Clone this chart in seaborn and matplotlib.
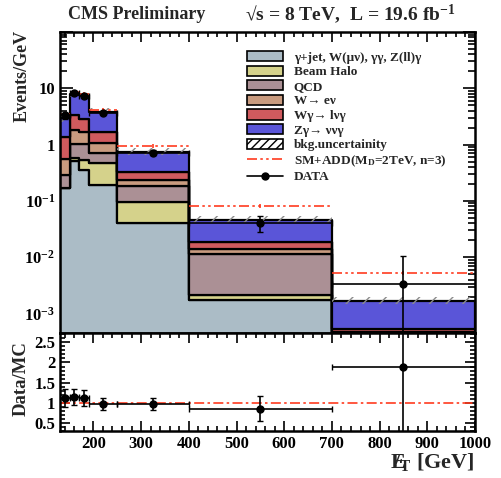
import numpy as np
import pandas as pd
import matplotlib
matplotlib.use("Agg")
import matplotlib.pyplot as plt
import matplotlib.ticker as mticker
from matplotlib.patches import Patch
from matplotlib.lines import Line2D
import seaborn as sns

# bins in missing E_T (GeV)
edges = [130, 150, 170, 190, 250, 400, 700, 1000]
centers = [140, 160, 180, 220, 325, 550, 850]
halfw = [10, 10, 10, 30, 75, 150, 150]

# backgrounds, events/GeV (bottom -> top)
gjet = [0.167, 0.51, 0.36, 0.189, 0.0405, 0.00172, 0.0002]
halo = [0.003, 0.078, 0.166, 0.291, 0.0555, 0.00043, 0.00002]
qcd = [0.115, 0.452, 0.484, 0.24, 0.086, 0.00905, 0.0002]
wenu = [0.279, 0.75, 0.66, 0.36, 0.05, 0.0028, 0.00005]
wg = [0.796, 1.52, 1.23, 0.59, 0.094, 0.0047, 0.00006]
zg = [1.57, 4.74, 4.6, 2.12, 0.414, 0.0279, 0.00115]

sm_add = [3.55, 8.7, 7.9, 4.18, 0.94, 0.081, 0.0052]

data = [3.3, 8.4, 7.4, 3.7, 0.72, 0.040, 0.0033]
data_lo = [0.4, 0.65, 0.6, 0.25, 0.07, 0.012, 0.00329]
data_hi = [0.4, 0.65, 0.6, 0.25, 0.07, 0.015, 0.0071]

ratio = [1.125, 1.14, 1.12, 0.975, 0.975, 0.85, 1.9]
ratio_lo = [0.22, 0.2, 0.2, 0.15, 0.15, 0.31, 1.9]
ratio_hi = [0.21, 0.2, 0.2, 0.15, 0.15, 0.31, 1.5]

names = ["gjet", "halo", "qcd", "wenu", "wg", "zg"]
labels = ["γ+jet, W(μν), γγ, Z(ll)γ", "Beam Halo", "QCD", "W→ eν", "Wγ→ lνγ", "Zγ→ ννγ"]
colors = ["#abbcc6", "#d5d28b", "#ab9095", "#c99b7f", "#d05a5e", "#5a55d8"]

sns.set_theme(style="ticks")
plt.rcParams["font.family"] = ["Liberation Serif", "DejaVu Serif"]
plt.rcParams["font.weight"] = "bold"
plt.rcParams["axes.labelweight"] = "bold"
plt.rcParams["mathtext.fontset"] = "custom"
plt.rcParams["mathtext.rm"] = "Liberation Serif:bold"
plt.rcParams["mathtext.bf"] = "Liberation Serif:bold"
plt.rcParams["mathtext.it"] = "Liberation Serif:bold:italic"
plt.rcParams["mathtext.default"] = "bf"
plt.rcParams["hatch.linewidth"] = 1.0

fig = plt.figure(figsize=(5.01, 4.78), dpi=100)
ax = fig.add_axes([0.1198, 0.3033, 0.8283, 0.6298])
rax = fig.add_axes([0.1198, 0.0973, 0.8283, 0.2060], sharex=ax)

# stacked backgrounds
stack = [gjet, halo, qcd, wenu, wg, zg]
df = pd.DataFrame({
    "ET": np.tile(centers, len(names)),
    "value": np.concatenate(stack),
    "process": np.repeat(names, len(centers)),
})
pal = dict(zip(names, colors))
sns.histplot(data=df, x="ET", weights="value", hue="process", hue_order=names[::-1],
             multiple="stack", bins=edges, element="step", palette=pal, alpha=1,
             edgecolor="black", linewidth=1.6, legend=False, ax=ax)

total = np.sum(stack, axis=0)
ax.bar(edges[:-1], total * 0.3, width=np.diff(edges), bottom=total * 0.87, align="edge",
       fill=False, hatch="//", edgecolor="#8c8c8c", linewidth=0)

# SM + ADD signal
red = "#ff3b1f"
ddot = (0, (6, 2, 1.5, 2, 1.5, 2))
ax.hlines(sm_add, edges[:-1], edges[1:], colors=red, linestyles=[ddot], linewidth=1.2)
ax.errorbar(centers, sm_add, yerr=np.array(sm_add) * 0.08, fmt="none", ecolor=red, elinewidth=1.2)

# data
ax.errorbar(centers, data, xerr=halfw, yerr=[data_lo, data_hi], fmt="o", color="black",
            ms=5, elinewidth=1.2, capsize=2)

ax.set_yscale("log")
ax.set_ylim(4.5e-4, 100)
ax.set_xlim(130, 1000)
ax.set_xlabel("")
ax.set_ylabel("")


def log_fmt(v, pos):
    e = int(round(np.log10(v)))
    if e == 0:
        return "1"
    if e == 1:
        return "10"
    if e >= 2:
        return ""
    return rf"$10^{{{e}}}$"


ax.yaxis.set_major_locator(mticker.LogLocator(base=10, numticks=20))
ax.yaxis.set_minor_locator(mticker.LogLocator(base=10, subs=np.arange(2, 10), numticks=20))
ax.yaxis.set_major_formatter(mticker.FuncFormatter(log_fmt))
ax.yaxis.set_minor_formatter(mticker.NullFormatter())
ax.tick_params(axis="x", labelbottom=False)

# ratio
rax.axhline(1, color=red, linestyle=(0, (6, 2, 1.5, 2)), linewidth=1.2)
rax.errorbar(centers, ratio, xerr=halfw, yerr=[ratio_lo, ratio_hi], fmt="o", color="black",
             ms=5, elinewidth=1.2, capsize=2)
rax.set_ylim(0.29, 2.73)
rax.set_yticks([0.5, 1, 1.5, 2, 2.5])
rax.set_yticklabels(["0.5", "1", "1.5", "2", "2.5"])
rax.yaxis.set_minor_locator(mticker.MultipleLocator(0.1))
rax.set_xticks([200, 300, 400, 500, 600, 700, 800, 900, 1000])
rax.xaxis.set_minor_locator(mticker.MultipleLocator(20))
rax.set_xlim(130, 1000)

for a in (ax, rax):
    for s in a.spines.values():
        s.set_linewidth(1.8)
        s.set_color("black")
    a.tick_params(which="both", direction="in", top=True, right=True, colors="black",
                  labelsize=12, width=1.2)
    a.tick_params(which="major", length=7)
    a.tick_params(which="minor", length=3.5)
    for t in a.get_xticklabels() + a.get_yticklabels():
        t.set_fontweight("bold")
ax.tick_params(axis="y", which="major", length=9)
ax.tick_params(axis="y", which="minor", length=5)

# legend
handles = [Patch(facecolor=c, edgecolor="black", linewidth=1.2) for c in colors]
handles.append(Patch(facecolor="white", edgecolor="black", hatch="////", linewidth=1.2))
handles.append(Line2D([], [], color=red, linestyle=ddot, linewidth=1.2))
handles.append(Line2D([], [], color="black", marker="o", ms=5, linewidth=1.2))
leg_labels = labels + ["bkg.uncertainity", "SM+ADD(M$_{D}$=2TeV, n=3)", "DATA"]
fig.legend(handles, leg_labels, loc="upper left", bbox_to_anchor=(247 / 501, 1 - 51 / 478),
           frameon=False, fontsize=9.5, handlelength=2.75, handleheight=0.8,
           labelspacing=0.15, borderpad=0, borderaxespad=0, handletextpad=0.8)

# texts
fig.text(68 / 501, 1 - 14.5 / 478, "CMS Preliminary", fontsize=13, fontweight="bold",
         va="center", ha="left")
fig.text(245 / 501, 1 - 14.5 / 478, "√s = 8 TeV,  L = 19.6 fb$^{-1}$", fontsize=14,
         fontweight="bold", va="center", ha="left")
fig.text(22 / 501, 1 - 30 / 478, "Events/GeV", rotation=90, fontsize=13, fontweight="bold",
         va="top", ha="center")
fig.text(21 / 501, 1 - 378.5 / 478, "Data/MC", rotation=90, fontsize=13.5, fontweight="bold",
         va="center", ha="center")
fig.text(475 / 501, 1 - 462 / 478, r"$E\!\!\!\!/_{T}$ [GeV]", fontsize=16, fontweight="bold",
         va="center", ha="right")

fig.savefig("out.png", dpi=100)
